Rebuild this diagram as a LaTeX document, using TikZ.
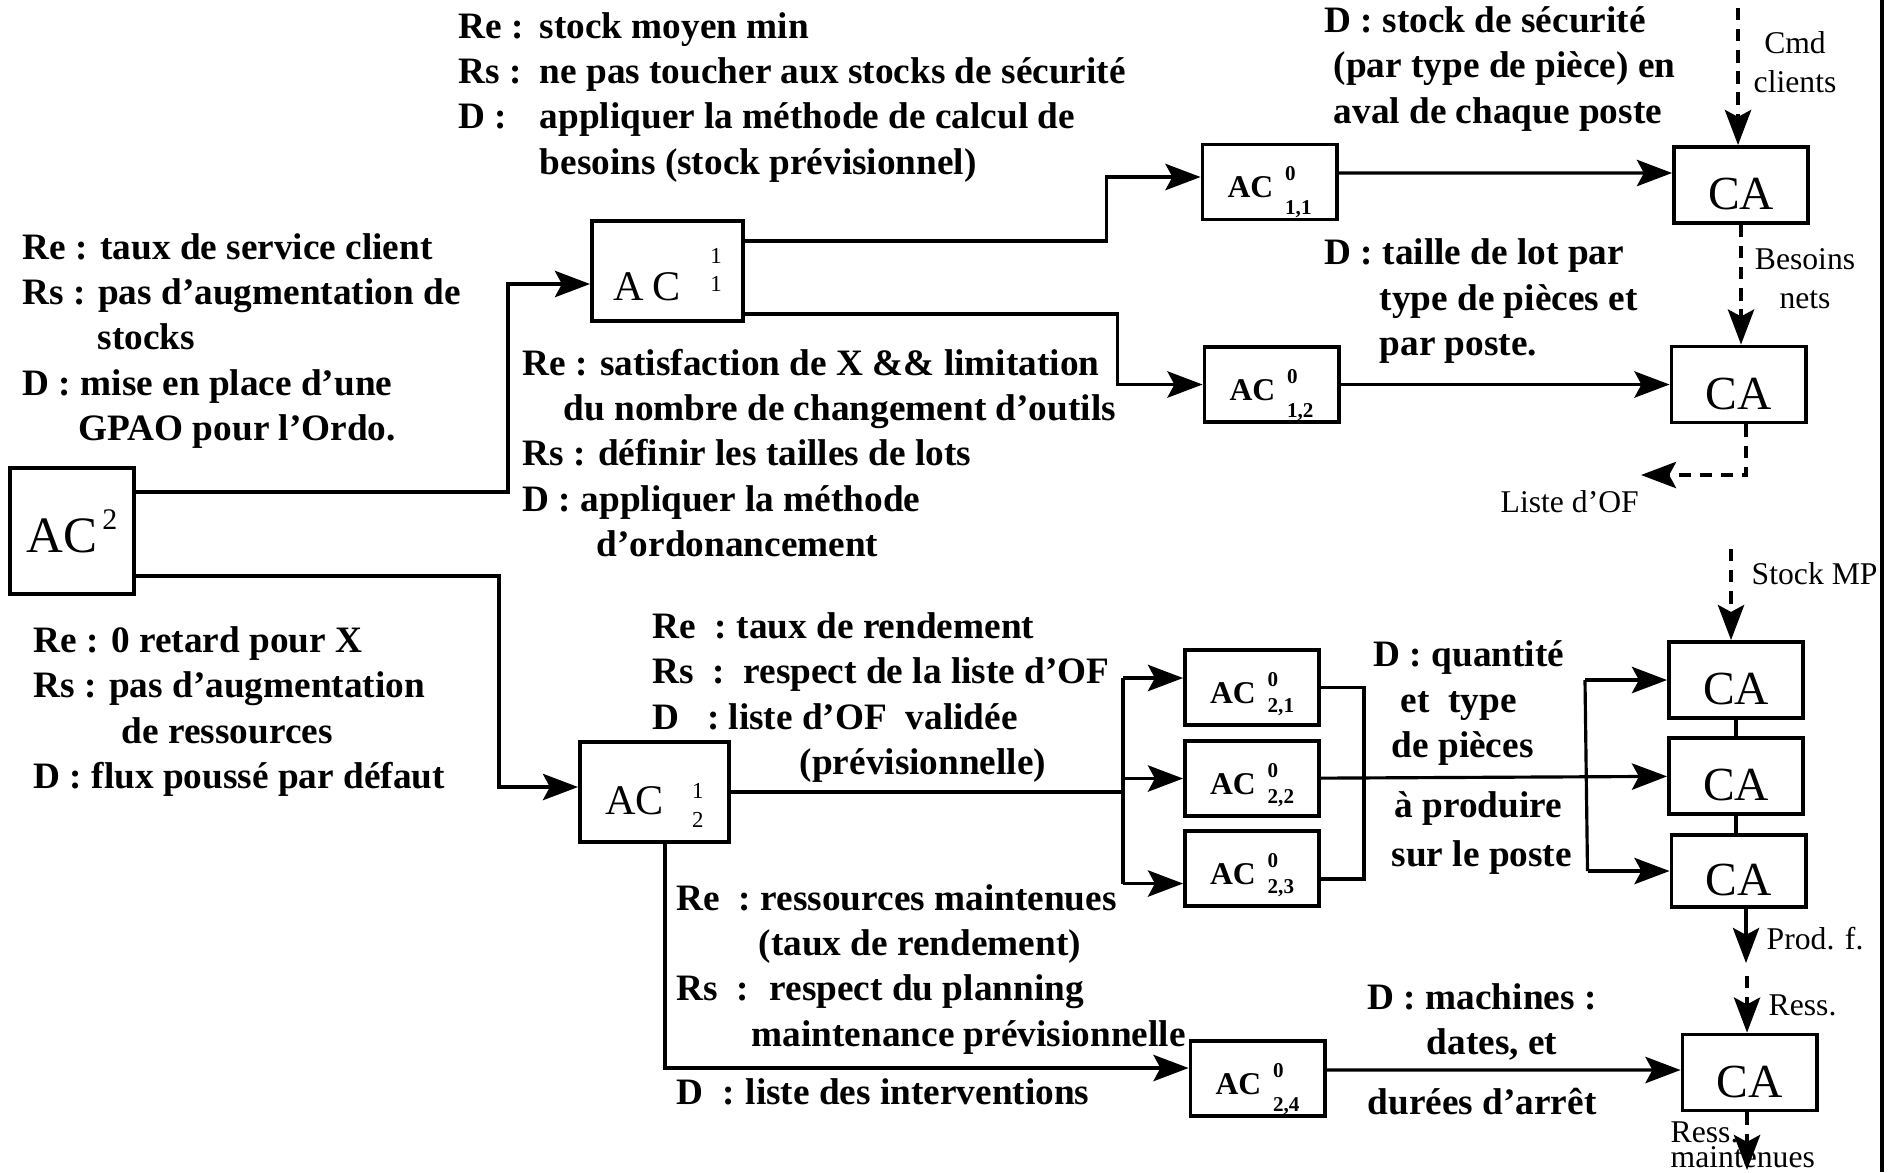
\documentclass[tikz,border=0pt]{standalone}
\usepackage{fontspec}
\setmainfont{Liberation Serif}
\usetikzlibrary{arrows.meta}

% label column for the Re/Rs/D lines
\newcommand{\lbl}[2]{\makebox[#1][l]{#2}}
% level 0 controller with its indices (optional arg: drop of the lower index)
\newcommand{\acz}[2][4.8pt]{\raisebox{-4.5pt}[0pt][0pt]{AC\hspace{3.4pt}{\fontsize{6}{6}\selectfont\makebox[0pt][l]{\raisebox{4.8pt}{0}}\raisebox{-#1}{#2}}}}

\begin{document}
\begin{tikzpicture}[x=0.01cm, y=-0.01cm,
    box/.style={draw, line width=1.1pt, inner sep=0pt, minimum width=1.34cm, minimum height=.75cm},
    ca/.style={box, minimum height=.76cm, text height=14pt, text depth=0pt, font=\fontsize{13.5}{15}\selectfont},
    acz/.style={box, font=\bfseries\fontsize{9}{10}\selectfont},
    acu/.style={box, minimum width=1.51cm, minimum height=1cm, font=\fontsize{12}{14}\selectfont},
    note/.style={anchor=base west, align=left, inner sep=0pt, font=\bfseries\fontsize{10.6}{12.8}\selectfont},
    tag/.style={inner sep=0pt, font=\fontsize{9}{11}\selectfont},
    link/.style={line width=.9pt},
    arr/.style={link, -{Stealth[length=10pt, width=7.5pt, inset=2pt]}},
    flow/.style={arr, dash pattern=on 3.5pt off 2.5pt},
]
\useasboundingbox (0,0) rectangle (1892,1172);

% controllers
\node[box, minimum width=1.24cm, minimum height=1.26cm, font=\fontsize{14.5}{16}\selectfont] (ac2) at (72,531) {AC\hspace{1.4pt}\raisebox{6.5pt}{\fontsize{8.5}{9}\selectfont 2}};
\node[acu] (ac11) at (667.5,271) {\raisebox{-8.3pt}[0pt][0pt]{A\hspace{2.5pt}C\hspace{8.5pt}{\fontsize{6.5}{7}\selectfont\makebox[0pt][l]{\raisebox{10.5pt}{1}}\raisebox{2.6pt}{1}}}};
\node[acu, minimum width=1.49cm] (ac12) at (654.5,792) {\raisebox{-6.5pt}[0pt][0pt]{AC\hspace{8pt}{\fontsize{6.5}{7}\selectfont\makebox[0pt][l]{\raisebox{4.8pt}{1}}\raisebox{-3.7pt}{2}}}};

\node[acz] (z11) at (1269.5,182) {\acz{1,1}};
\node[acz] (z12) at (1271.5,384.5) {\acz{1,2}};
\node[acz] (z21) at (1252,687.5) {\acz[2.5pt]{2,1}};
\node[acz] (z22) at (1252,778.5) {\acz[2.5pt]{2,2}};
\node[acz] (z23) at (1252,868.5) {\acz[2.5pt]{2,3}};
\node[acz] (z24) at (1257.5,1078.5) {\acz{2,4}};

\node[ca] (ca1) at (1741,185) {CA};
\node[ca] (ca2) at (1738.5,384.5) {CA};
\node[ca] (ca3) at (1736,680) {CA};
\node[ca] (ca4) at (1736,776) {CA};
\node[ca, minimum height=.72cm] (ca5) at (1738.5,871) {CA};
\node[ca] (ca6) at (1749.5,1072.5) {CA};

% Re / Rs / D annotations (placed by their last baseline)
\node[note] (nA) at (458,174) {\lbl{.81cm}{Re :}stock moyen min\\
  \lbl{.81cm}{Rs :}ne pas toucher aux stocks de sécurité\\
  \lbl{.81cm}{D :}appliquer la méthode de calcul de\\
  \lbl{.81cm}{}besoins (stock prévisionnel)};
\node[note] (nB) at (22,440) {Re : taux de service client\\
  Rs : pas d’augmentation de\\
  \hspace*{.75cm}stocks\\
  D : mise en place d’une\\
  \hspace*{.56cm}GPAO pour l’Ordo.};
\node[note] (nC) at (522,556) {Re : satisfaction de X \&\& limitation\\
  \hspace*{.41cm}du nombre de changement d’outils\\
  Rs : définir les tailles de lots\\
  D : appliquer la méthode\\
  \hspace*{.74cm}d’ordonancement};
\node[note] (nD) at (1324,123) {D : stock de sécurité\\
  \hspace*{.09cm}(par type de pièce) en\\
  \hspace*{.09cm}aval de chaque poste};
\node[note] (nE) at (1324,355) {D : taille de lot par\\
  \hspace*{.55cm}type de pièces et\\
  \hspace*{.55cm}par poste.};
\node[note] (nF) at (33,788) {Re : 0 retard pour X\\
  Rs : pas d’augmentation\\
  \hspace*{.88cm}de ressources\\
  D : flux poussé par défaut};
\node[note] (nG) at (652,774) {\lbl{.84cm}{Re\ \ :}taux de rendement\\
  \lbl{.91cm}{Rs\ \ :}respect de la liste d’OF\\
  \lbl{.76cm}{D\ \ \ :}liste d’OF\ \ validée\\
  \hspace*{1.47cm}(prévisionnelle)};
\node[note] (nH) at (1373,757) {D : quantité\\
  \hspace*{.27cm}et\ \ type\\
  \hspace*{.18cm}de pièces};
\node[note] (nH2) at (1391,866) {\hspace*{.03cm}à produire\\[1pt]
  sur le poste};
\node[note] (nI) at (676,1104) {\lbl{.84cm}{Re\ \ :}ressources maintenues\\
  \hspace*{.82cm}(taux de rendement)\\
  \lbl{.93cm}{Rs\ \ :}respect du planning\\
  \hspace*{.75cm}maintenance prévisionnelle\\[3.7pt]
  \lbl{.69cm}{D\ \ :}liste des interventions};
\node[note] (nJ) at (1367,1114) {D : machines :\\
  \hspace*{.59cm}dates, et\\[4pt]
  durées d’arrêt};

% flow labels
\node[tag, align=center, anchor=base] (cmd) at (1795,92) {Cmd\\clients};
\node[tag, align=center, anchor=base] (bn) at (1805,308) {Besoins\\nets};
\node[tag, anchor=base west] (of) at (1500,512) {Liste d’OF};
\node[tag, anchor=base west] (mp) at (1751,584) {Stock MP};
\node[tag, anchor=base west] (pf) at (1766,949) {Prod. f.};
\node[tag, anchor=base west] (rs) at (1768,1015) {Ress.};
\node[tag, anchor=base west, align=left, font=\fontsize{9}{7}\selectfont] (rm) at (1670,1167) {Ress.\\maintenues};

\coordinate (cmdin) at (1738,8);
\coordinate (ofout) at (1641,475);
\coordinate (mpin) at (1731,549);
\coordinate (pfout) at (1746,963);
\coordinate (rsin) at (1747,976);
\coordinate (rmout) at (1747,1170);
\coordinate (split) at ([xshift=-6mm]z22.west);

% connections
\draw[arr] ([yshift=3.9mm]ac2.east) -| ([xshift=-8.2mm,yshift=-1.3mm]ac11.west) -- ([yshift=-1.3mm]ac11.west);
\draw[arr] ([yshift=-4.5mm]ac2.east) -| ([xshift=-7.9mm,yshift=.5mm]ac12.west) -- ([yshift=.5mm]ac12.west);
\draw[arr] ([yshift=3mm]ac11.east) -| ([xshift=-9.4mm,yshift=.5mm]z11.west) -- ([yshift=.5mm]z11.west);
\draw[arr] ([yshift=-4.3mm]ac11.east) -| ([xshift=-8.5mm]z12.west) -- (z12.west);
\draw[arr] ([yshift=.9mm]z11.east) -- ([yshift=1.2mm]ca1.west);
\draw[arr] (z12) -- (ca2);
\draw[flow] (cmdin) -- (cmdin |- ca1.north);
\draw[flow] (ca1.south) -- (ca1.south |- ca2.north);
\draw[flow] ([xshift=.75mm]ca2.south) |- (ofout);
\draw[flow] (mpin) -- (mpin |- ca3.north);

\draw[link] (ac12.east) -- (ac12.east -| split);
\draw[link] ([xshift=-6mm,yshift=.95mm]z21.west) -- ([xshift=-6mm,yshift=-1.5mm]z23.west);
\foreach \n/\s in {z21/.95mm, z22/0mm, z23/-1.5mm}
  \draw[arr] ([xshift=-6mm,yshift=\s]\n.west) -- ([yshift=\s]\n.west);
\draw[link] (z21.east) -- ++(43,0) |- ([yshift=-1.05mm]z23.east);
\draw[arr] (z22) -- (ca4);
\draw[link] ([xshift=-8.2mm]ca3.west) -- ([xshift=-8.2mm]ca5.west);
\foreach \n in {ca3, ca5}
  \draw[arr] ([xshift=-8.2mm]\n.west) -- (\n.west);
\draw[link] (ca3) -- (ca4);
\draw[link] (ca4.south) -- (ca4.south |- ca5.north);
\draw[arr] (pfout |- ca5.south) -- (pfout);
\draw[flow] (rsin) -- (rsin |- ca6.north);
\draw[flow] (rmout |- ca6.south) -- (rmout);

\draw[arr] ([xshift=1.05mm]ac12.south) |- ([yshift=1.05mm]z24.west);
\draw[arr] ([yshift=.85mm]z24.east) -- ([yshift=.25mm]ca6.west);

\draw[line width=1.2pt] (1882,0) -- (1882,1172);
\end{tikzpicture}
\end{document}
